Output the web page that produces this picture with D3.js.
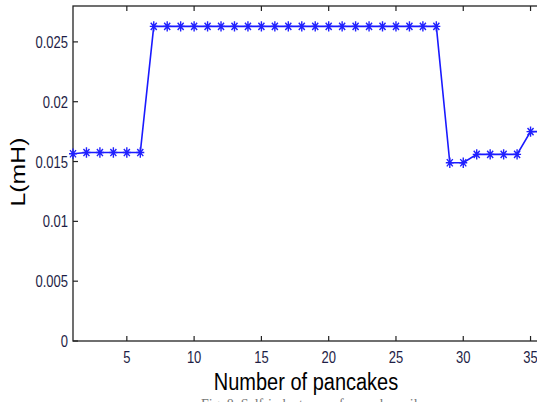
<!DOCTYPE html>
<html>
<head>
<meta charset="utf-8">
<script src="https://cdn.jsdelivr.net/npm/d3@7"></script>
<style>
  html, body { margin: 0; padding: 0; background: #fff; overflow: hidden; }
  svg { display: block; }
</style>
</head>
<body>
<svg width="537" height="402"></svg>
<script>
// data
const pancakes = [1, 2, 3, 4, 5, 6, 7, 8, 9, 10, 11, 12, 13, 14, 15, 16, 17, 18,
                  19, 20, 21, 22, 23, 24, 25, 26, 27, 28, 29, 30, 31, 32, 33, 34, 35, 36];
const inductance = [0.01565, 0.01575, 0.01575, 0.01575, 0.01575, 0.01575,
                    0.0263, 0.0263, 0.0263, 0.0263, 0.0263, 0.0263, 0.0263, 0.0263,
                    0.0263, 0.0263, 0.0263, 0.0263, 0.0263, 0.0263, 0.0263, 0.0263,
                    0.0263, 0.0263, 0.0263, 0.0263, 0.0263, 0.0263,
                    0.0149, 0.0149, 0.0156, 0.0156, 0.0156, 0.0156, 0.0175, 0.0175];
const xTicks = [5, 10, 15, 20, 25, 30, 35];
const yTicks = [0, 0.005, 0.01, 0.015, 0.02, 0.025];

const svg = d3.select("svg");
const plotL = 73, plotR = 544, plotT = 6, plotB = 341;
const stretch = 1.24; // the source picture is a bit taller than wide

const x = d3.scaleLinear().domain([1, 36]).range([plotL, plotR]);
const y = d3.scaleLinear().domain([0, 0.028]).range([plotB, plotT]);

// box
svg.append("rect")
    .attr("x", plotL).attr("y", plotT)
    .attr("width", plotR - plotL).attr("height", plotB - plotT)
    .attr("fill", "none").attr("stroke", "#222").attr("stroke-width", 1.3);

// ticks pointing inward, mirrored on top
const tl = 5;
svg.append("g").selectAll("line").data(xTicks).enter().append("line")
    .attr("x1", d => x(d)).attr("x2", d => x(d))
    .attr("y1", plotB).attr("y2", plotB - tl)
    .attr("stroke", "#222").attr("stroke-width", 1.2);
svg.append("g").selectAll("line").data(xTicks).enter().append("line")
    .attr("x1", d => x(d)).attr("x2", d => x(d))
    .attr("y1", plotT).attr("y2", plotT + tl)
    .attr("stroke", "#222").attr("stroke-width", 1.2);
svg.append("g").selectAll("line").data(yTicks).enter().append("line")
    .attr("x1", plotL).attr("x2", plotL + tl)
    .attr("y1", d => y(d)).attr("y2", d => y(d))
    .attr("stroke", "#222").attr("stroke-width", 1.2);

// tick labels
const tickFont = "'Liberation Sans', Arial, sans-serif";
svg.append("g").selectAll("text").data(xTicks).enter().append("text")
    .attr("transform", d => `translate(${x(d)},${plotB + 22}) scale(1,${stretch})`)
    .attr("text-anchor", "middle")
    .attr("font-family", tickFont).attr("font-size", 13)
    .attr("fill", "#1e1e46")
    .text(d => d);
svg.append("g").selectAll("text").data(yTicks).enter().append("text")
    .attr("transform", d => `translate(${plotL - 5},${y(d) + 6}) scale(1,${stretch})`)
    .attr("text-anchor", "end")
    .attr("font-family", tickFont).attr("font-size", 13)
    .attr("fill", "#1e1e46")
    .text(d => d);

// axis titles
svg.append("text")
    .attr("transform", `translate(306,390) scale(1,${stretch})`)
    .attr("text-anchor", "middle")
    .attr("font-family", tickFont).attr("font-size", 20)
    .attr("fill", "#000")
    .text("Number of pancakes");
svg.append("text")
    .attr("transform", `translate(25,172) rotate(-90) scale(${stretch},1)`)
    .attr("text-anchor", "middle")
    .attr("font-family", tickFont).attr("font-size", 20)
    .attr("fill", "#000")
    .text("L(mH)");

// series
const pts = pancakes.map((p, i) => [p, inductance[i]]);
svg.append("path")
    .datum(pts)
    .attr("d", d3.line().x(d => x(d[0])).y(d => y(d[1])))
    .attr("fill", "none")
    .attr("stroke", "#1a1aff")
    .attr("stroke-width", 1.6);

// asterisk markers
const r = 4;
const star = `M${-r},0H${r}M0,${-r * 1.3}V${r * 1.3}M${-r * 0.75},${-r * 0.9}L${r * 0.75},${r * 0.9}M${-r * 0.75},${r * 0.9}L${r * 0.75},${-r * 0.9}`;
svg.append("g").selectAll("path").data(pts).enter().append("path")
    .attr("transform", d => `translate(${x(d[0])},${y(d[1])})`)
    .attr("d", star)
    .attr("fill", "none")
    .attr("stroke", "#2020ff")
    .attr("stroke-width", 1.4);

// caption, mostly cut off at the bottom edge
svg.append("text")
    .attr("x", 312).attr("y", 409)
    .attr("text-anchor", "middle")
    .attr("font-family", "'Liberation Serif', 'Times New Roman', serif")
    .attr("font-size", 14)
    .attr("fill", "#777")
    .text("Fig. 8.  Self-inductance of pancake coils");
</script>
</body>
</html>
